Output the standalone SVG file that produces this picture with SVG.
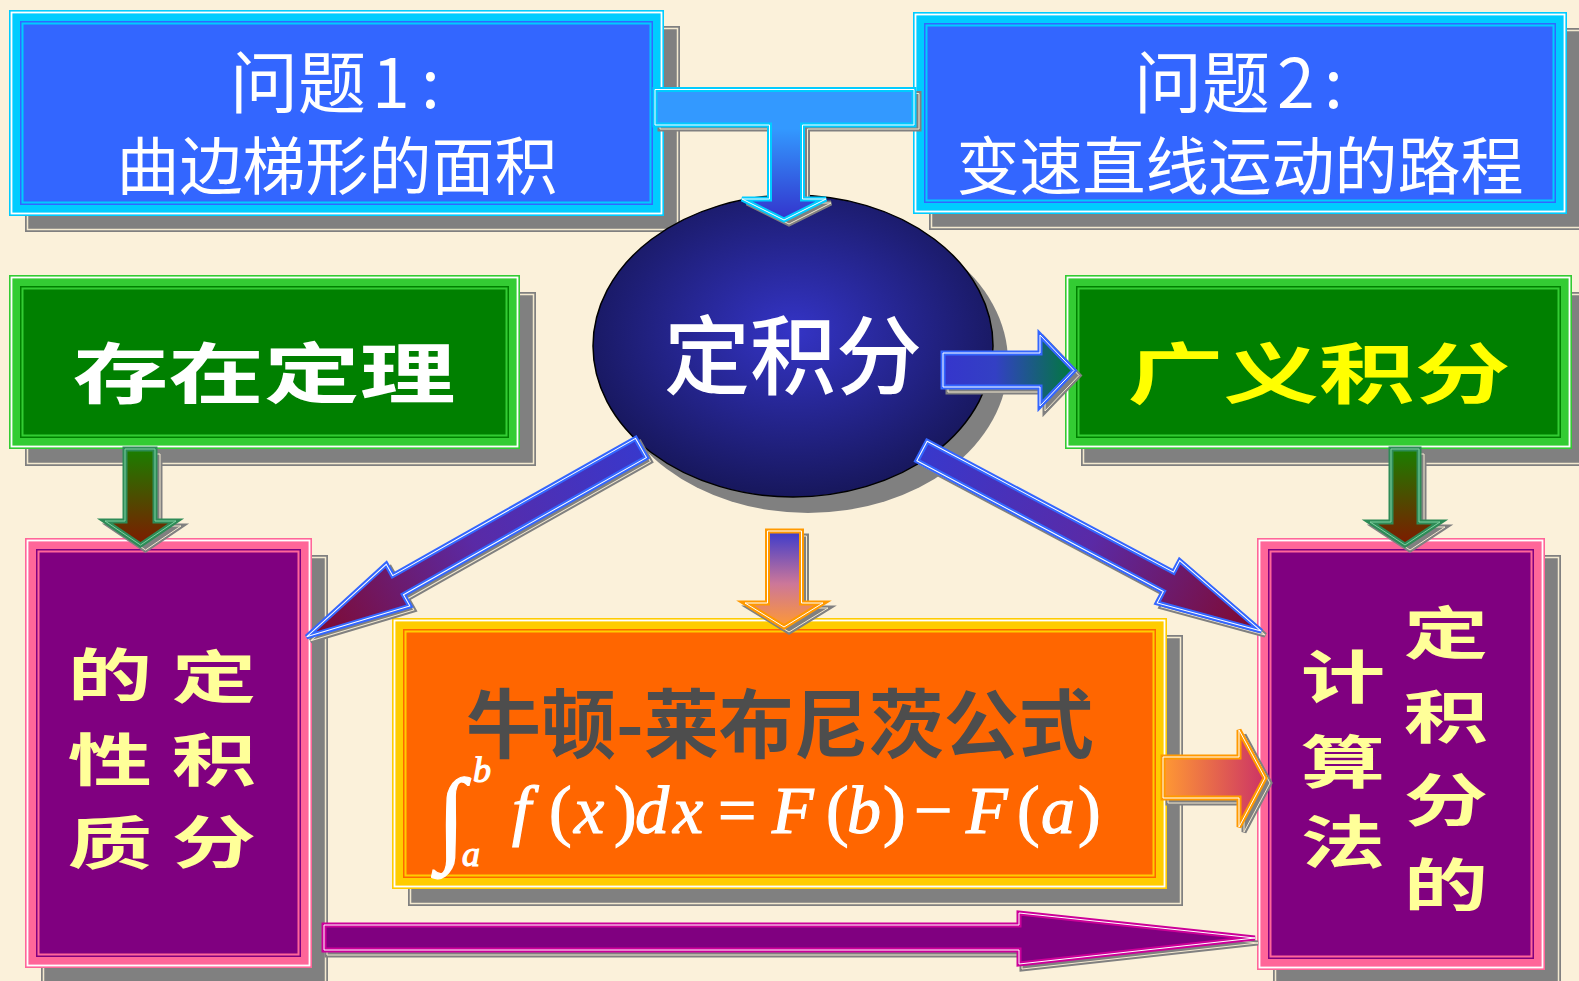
<svg xmlns="http://www.w3.org/2000/svg" xmlns:xlink="http://www.w3.org/1999/xlink" width="1579" height="981" viewBox="0 0 1579 981">
<defs>
<style>
.sh{fill:#808080}
.shl{fill:none;stroke:#F3E9CF;stroke-width:1.5}
.wl{fill:none;stroke:#FFFFFF;stroke-width:1.8}
.cjk{font-family:"Noto Sans CJK SC","Noto Sans CJK TC",sans-serif}
.ttl1{font-size:68px;fill:#FFFFFF}
.ttl2{font-size:63px;fill:#FFFFFF;text-anchor:middle}
.big{font-size:66px;font-weight:700;text-anchor:middle}
.vt{font-size:57px;font-weight:700;fill:#FFFF99;text-anchor:middle}
.math{font-family:"Liberation Serif","Times New Roman",serif;fill:#FFFFFF;stroke:#FFFFFF;stroke-width:1.2}
.it{font-style:italic}
.ashadow{fill:#808080;stroke:#808080;stroke-width:5;stroke-linejoin:miter}
.ashl{fill:none;stroke:#F3E9CF;stroke-width:1}
.ainner{fill:none;stroke:#FFFFFF;stroke-width:1}
</style>
<linearGradient id="gT" x1="0" y1="0" x2="0" y2="1">
<stop offset="0" stop-color="#3399FF"/><stop offset="0.3" stop-color="#3399FF"/><stop offset="1" stop-color="#3333CC"/>
</linearGradient>
<linearGradient id="gG" x1="0" y1="0" x2="0" y2="1">
<stop offset="0" stop-color="#1A7F00"/><stop offset="1" stop-color="#7F1A00"/>
</linearGradient>
<linearGradient id="gR" x1="0" y1="0" x2="1" y2="0">
<stop offset="0" stop-color="#3535CC"/><stop offset="0.4" stop-color="#3340C4"/><stop offset="1" stop-color="#007A3A"/>
</linearGradient>
<linearGradient id="gD" x1="0" y1="0" x2="1" y2="0">
<stop offset="0" stop-color="#3838CC"/><stop offset="0.5" stop-color="#5A2AA6"/><stop offset="1" stop-color="#82082A"/>
</linearGradient>
<linearGradient id="gO" x1="0" y1="0" x2="0" y2="1">
<stop offset="0" stop-color="#3A3ACC"/><stop offset="0.55" stop-color="#CC7799"/><stop offset="1" stop-color="#FF9933"/>
</linearGradient>
<linearGradient id="gOR" x1="0" y1="0" x2="1" y2="0">
<stop offset="0" stop-color="#FF9933"/><stop offset="1" stop-color="#CC3366"/>
</linearGradient>
<radialGradient id="gE" cx="0.5" cy="0.45" r="0.55">
<stop offset="0" stop-color="#3434C6"/><stop offset="1" stop-color="#17175C"/>
</radialGradient>
<path id="pT" d="M655,89.5 H914 V125 H802.5 V199 H826 L784,220 L742,199 H769.5 V125 H655 Z"/>
<path id="pGL" d="M125,449 H155 V521 H176 L140.5,545 L105,521 H125 Z"/>
<path id="pGR" d="M1391,449 H1419 V522 H1440 L1405,545 L1370,522 H1391 Z"/>
<path id="pR" d="M943,353 H1040 V335 L1074,370.5 L1040,406 V387 H943 Z"/>
<path id="pD" d="M0,-11 H279 V-24 L384,0 L279,24 V11 H0 Z"/>
<path id="pO" d="M767.5,531 H801.5 V603 H823 L784,627 L745,603 H767.5 Z"/>
<path id="pOR" d="M1163,757 H1239 V730 L1265,778 L1239,827 V798 H1163 Z"/>
<path id="pB" d="M324,925 H1019 V913 L1255,938 L1019,964 V950 H324 Z"/>
</defs>

<rect x="0" y="0" width="1579" height="981" fill="#FBF1DA"/>

<g id="node-q1">
<rect class="sh" x="25" y="26" width="655" height="206"/>
<rect class="shl" x="27.5" y="28.5" width="650" height="201"/>
<rect fill="#00CCFF" x="9" y="10" width="655" height="206"/>
<rect class="wl" x="11.5" y="12.5" width="650" height="201"/>
<rect fill="#3366FF" x="20" y="21" width="633" height="184"/>
<rect fill="none" stroke="#00CCFF" stroke-width="2" x="22.5" y="23.5" width="628" height="179"/>
<text class="cjk ttl1" x="230" y="108">问题<tspan x="372">1</tspan><tspan x="421">:</tspan></text>
<text class="cjk ttl2" x="337" y="189">曲边梯形的面积</text>
</g>

<g id="node-q2">
<rect class="sh" x="929" y="28" width="654" height="202"/>
<rect class="shl" x="931.5" y="30.5" width="649" height="197"/>
<rect fill="#00CCFF" x="913" y="12" width="654" height="202"/>
<rect class="wl" x="915.5" y="14.5" width="649" height="197"/>
<rect fill="#3366FF" x="924" y="23" width="632" height="180"/>
<rect fill="none" stroke="#00CCFF" stroke-width="2" x="926.5" y="25.5" width="627" height="175"/>
<text class="cjk ttl1" x="1134" y="108">问题<tspan x="1277">2</tspan><tspan x="1324">:</tspan></text>
<text class="cjk ttl2" x="1240" y="189">变速直线运动的路程</text>
</g>

<g id="node-integral">
<ellipse cx="808" cy="362" rx="200" ry="151" fill="#808080"/>
<ellipse cx="793" cy="346" rx="200" ry="151" fill="url(#gE)" stroke="#000000" stroke-width="1.5"/>
<text class="cjk" x="793" y="388" font-size="86" font-weight="500" fill="#FFFFFF" text-anchor="middle">定积分</text>
</g>

<g id="node-existence">
<rect class="sh" x="25" y="292" width="511" height="174"/>
<rect class="shl" x="27.5" y="294.5" width="506" height="169"/>
<rect fill="#33CC33" x="9" y="275" width="511" height="174"/>
<rect class="wl" x="11.5" y="277.5" width="506" height="169"/>
<rect fill="#008000" x="20" y="286" width="489" height="152"/>
<rect fill="none" stroke="#33CC33" stroke-width="2" x="22.5" y="288.5" width="484" height="147"/>
<text class="cjk big" transform="translate(264,398) scale(1.45,1)" fill="#FFFFFF">存在定理</text>
</g>

<g id="node-improper">
<rect class="sh" x="1081" y="292" width="507" height="174"/>
<rect class="shl" x="1083.5" y="294.5" width="502" height="169"/>
<rect fill="#33CC33" x="1065" y="275" width="507" height="174"/>
<rect class="wl" x="1067.5" y="277.5" width="502" height="169"/>
<rect fill="#008000" x="1076" y="286" width="485" height="152"/>
<rect fill="none" stroke="#33CC33" stroke-width="2" x="1078.5" y="288.5" width="480" height="147"/>
<text class="cjk big" transform="translate(1319,398) scale(1.45,1)" fill="#FFFF00">广义积分</text>
</g>

<g id="node-properties">
<rect class="sh" x="41" y="555" width="287" height="430"/>
<rect class="shl" x="43.5" y="557.5" width="282" height="425"/>
<rect fill="#FF6699" x="25" y="538" width="287" height="430"/>
<rect class="wl" x="27.5" y="540.5" width="282" height="425"/>
<rect fill="#800080" x="36" y="549" width="265" height="408"/>
<rect fill="none" stroke="#FF6699" stroke-width="2" x="38.5" y="551.5" width="260" height="403"/>
<text class="cjk vt" transform="translate(214,0) scale(1.48,1)" x="0 0 0" y="698 781 863">定积分</text>
<text class="cjk vt" transform="translate(110,0) scale(1.48,1)" x="0 0 0" y="696 781 864">的性质</text>
</g>

<g id="node-method">
<rect class="sh" x="1273" y="555" width="288" height="432"/>
<rect class="shl" x="1275.5" y="557.5" width="283" height="427"/>
<rect fill="#FF6699" x="1257" y="538" width="288" height="432"/>
<rect class="wl" x="1259.5" y="540.5" width="283" height="427"/>
<rect fill="#800080" x="1268" y="549" width="266" height="410"/>
<rect fill="none" stroke="#FF6699" stroke-width="2" x="1270.5" y="551.5" width="261" height="405"/>
<text class="cjk vt" transform="translate(1446,0) scale(1.48,1)" x="0 0 0 0" y="654 738 821 906">定积分的</text>
<text class="cjk vt" transform="translate(1343,0) scale(1.48,1)" x="0 0 0" y="698 783 863">计算法</text>
</g>

<g id="node-newton">
<rect class="sh" x="408" y="635" width="775" height="271"/>
<rect class="shl" x="410.5" y="637.5" width="770" height="266"/>
<rect fill="#FFCC00" x="392" y="618" width="775" height="271"/>
<rect class="wl" x="394.5" y="620.5" width="770" height="266"/>
<rect fill="#FF6600" x="403" y="629" width="753" height="249"/>
<rect fill="none" stroke="#FFCC00" stroke-width="2" x="405.5" y="631.5" width="748" height="244"/>
<text class="cjk" x="780" y="752" font-size="75" font-weight="700" fill="#4D4D4D" text-anchor="middle">牛顿-莱布尼茨公式</text>
<text class="math" x="437" y="851" font-size="104">∫</text>
<text class="math it" x="473" y="782" font-size="36">b</text>
<text class="math it" x="462" y="866" font-size="36">a</text>
<text class="math" y="833" font-size="68"><tspan class="it" x="512">f</tspan><tspan x="549">(</tspan><tspan class="it" x="574">x</tspan><tspan x="614">)</tspan><tspan class="it" x="635">d</tspan><tspan class="it" x="673">x</tspan><tspan x="718">=</tspan><tspan class="it" x="772">F</tspan><tspan x="826">(</tspan><tspan class="it" x="847">b</tspan><tspan x="883">)</tspan><tspan x="914">−</tspan><tspan class="it" x="966">F</tspan><tspan x="1017">(</tspan><tspan class="it" x="1041">a</tspan><tspan x="1078">)</tspan></text>
</g>

<g id="connectors">
<g id="edge-problems-to-integral">
<use xlink:href="#pT" href="#pT" class="ashadow" transform="translate(5,4)"/>
<use xlink:href="#pT" href="#pT" class="ashl" transform="translate(5,4)"/>
<use xlink:href="#pT" href="#pT" fill="url(#gT)" stroke="#00CCFF" stroke-width="5"/>
<use xlink:href="#pT" href="#pT" class="ainner"/>
</g>
<g id="edge-existence-to-properties">
<use xlink:href="#pGL" href="#pGL" class="ashadow" transform="translate(5,5)"/>
<use xlink:href="#pGL" href="#pGL" class="ashl" transform="translate(5,5)"/>
<use xlink:href="#pGL" href="#pGL" fill="url(#gG)" stroke="#2E8B57" stroke-width="5"/>
<use xlink:href="#pGL" href="#pGL" fill="none" stroke="#7FD0A0" stroke-width="1"/>
</g>
<g id="edge-improper-to-method">
<use xlink:href="#pGR" href="#pGR" class="ashadow" transform="translate(5,5)"/>
<use xlink:href="#pGR" href="#pGR" class="ashl" transform="translate(5,5)"/>
<use xlink:href="#pGR" href="#pGR" fill="url(#gG)" stroke="#2E8B57" stroke-width="5"/>
<use xlink:href="#pGR" href="#pGR" fill="none" stroke="#7FD0A0" stroke-width="1"/>
</g>
<g id="edge-integral-to-improper">
<use xlink:href="#pR" href="#pR" class="ashadow" transform="translate(5,5)"/>
<use xlink:href="#pR" href="#pR" class="ashl" transform="translate(5,5)"/>
<use xlink:href="#pR" href="#pR" fill="url(#gR)" stroke="#3366FF" stroke-width="5"/>
<use xlink:href="#pR" href="#pR" class="ainner"/>
</g>
<g id="edge-integral-to-method">
<use xlink:href="#pD" href="#pD" class="ashadow" transform="translate(926,455) rotate(27.96)"/>
<use xlink:href="#pD" href="#pD" class="ashl" transform="translate(926,455) rotate(27.96)"/>
<use xlink:href="#pD" href="#pD" fill="url(#gD)" stroke="#3366FF" stroke-width="5" transform="translate(922,451) rotate(27.96)"/>
<use xlink:href="#pD" href="#pD" class="ainner" transform="translate(922,451) rotate(27.96)"/>
</g>
<g id="edge-integral-to-properties">
<use xlink:href="#pD" href="#pD" class="ashadow" transform="translate(645,452) rotate(150.55)"/>
<use xlink:href="#pD" href="#pD" class="ashl" transform="translate(645,452) rotate(150.55)"/>
<use xlink:href="#pD" href="#pD" fill="url(#gD)" stroke="#3366FF" stroke-width="5" transform="translate(641,448) rotate(150.55)"/>
<use xlink:href="#pD" href="#pD" class="ainner" transform="translate(641,448) rotate(150.55)"/>
</g>
<g id="edge-integral-to-newton">
<use xlink:href="#pO" href="#pO" class="ashadow" transform="translate(5,5)"/>
<use xlink:href="#pO" href="#pO" class="ashl" transform="translate(5,5)"/>
<use xlink:href="#pO" href="#pO" fill="url(#gO)" stroke="#FF9900" stroke-width="5"/>
<use xlink:href="#pO" href="#pO" class="ainner"/>
</g>
<g id="edge-newton-to-method">
<use xlink:href="#pOR" href="#pOR" class="ashadow" transform="translate(5,5)"/>
<use xlink:href="#pOR" href="#pOR" class="ashl" transform="translate(5,5)"/>
<use xlink:href="#pOR" href="#pOR" fill="url(#gOR)" stroke="#FF9900" stroke-width="5"/>
<use xlink:href="#pOR" href="#pOR" class="ainner"/>
</g>
<g id="edge-properties-to-method">
<use xlink:href="#pB" href="#pB" class="ashadow" transform="translate(3,5)"/>
<use xlink:href="#pB" href="#pB" class="ashl" transform="translate(3,5)"/>
<use xlink:href="#pB" href="#pB" fill="#800080" stroke="#CC0099" stroke-width="5"/>
<use xlink:href="#pB" href="#pB" class="ainner"/>
</g>
</g>
</svg>
